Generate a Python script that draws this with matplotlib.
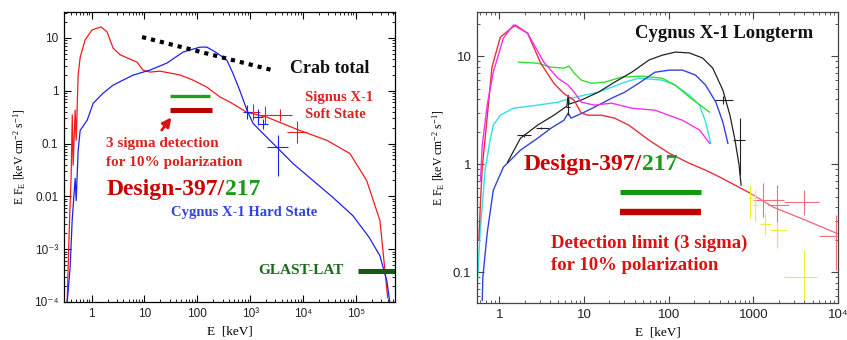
import matplotlib.pyplot as plt
from matplotlib.ticker import LogLocator, NullFormatter
import numpy as np

plt.rcParams['mathtext.fontset'] = 'custom'
plt.rcParams['mathtext.rm'] = 'Liberation Serif'
plt.rcParams['mathtext.it'] = 'Liberation Serif:italic'

SERIF = 'Liberation Serif'
SANS = ['Liberation Sans', 'DejaVu Sans']

# ---------------- left panel: hard / soft state, E [keV] vs E*F_E ----------------
soft_E = [0.344, 0.376, 0.41, 0.43, 0.447, 0.488, 0.51, 0.556, 0.607, 0.753,
          1.02, 1.51, 1.96, 2.55, 3.46, 4.69, 7.2, 9.4, 12.8, 19.7,
          30.5, 47, 83, 152, 269, 415, 870, 2080, 7670, 2.83e4,
          7.7e4, 1.6e5, 2.85e5, 4.0e5]
soft_F = [9.5e-5, 2.2e-3, 0.025, 0.35, 0.039, 0.43, 0.115, 2.0, 4.3, 9.2,
          14.2, 16.2, 13, 6.4, 4.8, 4.2, 3.5, 2.45, 2.26, 2.35,
          2.16, 1.99, 1.59, 1.17, 0.76, 0.61, 0.39, 0.316, 0.186, 0.115,
          0.065, 0.02, 3.5e-3, 1.2e-4]

hard_E = [0.344, 0.392, 0.428, 0.488, 0.51, 0.556, 0.607, 0.822, 1.07, 1.65,
          2.55, 6.1, 12.8, 26.7, 53.7, 112, 152, 235, 362, 470,
          632, 870, 1130, 1740, 3200, 6450, 1.54e4, 3.7e4, 8.8e4, 1.8e5,
          2.85e5, 3.86e5, 4.4e5]
hard_F = [9.6e-5, 4.5e-4, 3.5e-3, 0.022, 8.3e-3, 0.074, 0.178, 0.276, 0.58, 0.90,
          1.28, 1.98, 2.47, 3.35, 5.4, 6.7, 6.7, 5.2, 3.8, 2.16,
          1.03, 0.43, 0.242, 0.156, 0.085, 0.042, 0.020, 9.5e-3, 4.3e-3, 1.65e-3,
          7.5e-4, 2.5e-4, 9.6e-5]

# error crosses (centre, low, high)
soft_x = [1130, 1905, 3660, 7670]
soft_xlo = [835, 1470, 2170, 4960]
soft_xhi = [1530, 2470, 6170, 11860]
soft_y = [0.392, 0.344, 0.344, 0.163]
soft_ylo = [0.276, 0.233, 0.265, 0.101]
soft_yhi = [0.556, 0.51, 0.448, 0.264]

hard_x = [870, 1400, 1740, 3350]
hard_xlo = [730, 1125, 1400, 2080]
hard_xhi = [1040, 1745, 2170, 5190]
hard_y = [0.392, 0.315, 0.232, 0.0848]
hard_ylo = [0.29, 0.22, 0.187, 0.0248]
hard_yhi = [0.53, 0.45, 0.288, 0.143]

crab_E = [9.0, 2580]
crab_F = [10.4, 2.47]

pol_green_E = [30, 170]
pol_green_F = [0.79, 0.79]
pol_red_E = [30, 190]
pol_red_F = [0.43, 0.43]

glast_E = [1.09e5, 6e5]
glast_F = [3.9e-4, 3.9e-4]

left_xticks = [1, 10, 100, 1e3, 1e4, 1e5]
left_xlabels = ['1', '10', '100', '10³', '10⁴', '10⁵']
left_yticks = [1e-4, 1e-3, 0.01, 0.1, 1, 10]
left_ylabels = ['10⁻⁴', '10⁻³', '0.01', '0.1', '1', '10']

# ---------------- right panel: Cygnus X-1 long-term spectra ----------------
r_red_E = [0.575, 0.60, 0.63, 0.72, 0.82, 1.03, 1.55, 2.16, 3.09, 4.42, 5.8, 7.66,
           9.3, 11.3, 16.1, 23, 33.8, 58.6, 102, 176, 274, 402, 918]
r_red_F = [0.2, 0.45, 0.94, 2.72, 7.9, 15, 19.4, 16.3, 8.6, 5.6, 4.5, 3.9,
           2.97, 2.84, 2.84, 2.67, 2.3, 1.67, 1.26, 1.02, 0.88, 0.76, 0.54]
r_tail_E = [918, 1730, 4290, 1.1e4]
r_tail_F = [0.54, 0.40, 0.30, 0.22]

r_mag_E = [0.6, 0.63, 0.72, 0.85, 1.12, 1.47, 2.16, 3.36, 4.93, 6.5, 7.66, 9.3,
           13.3, 21.2, 36.7, 69, 146, 232, 305]
r_mag_F = [0.7, 1.5, 3.52, 7.1, 14.7, 19.4, 16.3, 8.8, 6.25, 5.4, 4.64, 3.75,
           3.52, 3.67, 3.3, 3.16, 2.55, 2.07, 1.56]

r_grn_E = [1.69, 2.84, 4.07, 5.8, 6.67, 7.66, 9.3, 12.2, 17.5, 27.9, 48.4, 84, 120, 176, 305]
r_grn_F = [8.8, 8.6, 7.9, 7.74, 8.07, 6.97, 6.0, 5.62, 5.74, 6.4, 6.53, 6.25, 5.38, 4.17, 3.03]

r_cyan_E = [0.546, 0.593, 0.68, 0.78, 0.85, 1.03, 1.47, 2.84, 4.93, 7.05, 10.1,
            14.8, 21.2, 30.3, 44.5, 84, 120, 176, 232, 274, 314]
r_cyan_F = [0.068, 0.23, 0.88, 1.67, 2.3, 2.84, 3.3, 3.52, 3.75, 4.08, 4.35,
            4.64, 5.16, 5.74, 6.25, 6.0, 5.38, 4.35, 3.52, 2.45, 1.56]

r_blue_E = [0.63, 0.64, 0.72, 0.85, 1.12, 1.78, 2.84, 4.07, 5.8, 6.5, 7.05, 10.1,
            14.8, 21.2, 30.3, 44.5, 69, 102, 146, 208, 274, 361, 437, 501]
r_blue_F = [0.055, 0.09, 0.23, 0.574, 0.94, 1.35, 1.74, 2.15, 2.55, 2.97, 2.67, 3.03,
            3.52, 4.08, 4.64, 5.62, 7.1, 7.42, 7.42, 6.67, 5.38, 3.75, 2.45, 1.56]

r_blk_E = [1.25, 1.78, 2.84, 4.42, 6.3, 6.5, 6.7, 9.3, 14.8, 23, 36.7,
           58.6, 84, 120, 176, 252, 332, 437, 530, 608, 679, 717]
r_blk_F = [1.04, 1.74, 2.3, 2.84, 3.45, 4.35, 3.6, 3.92, 4.64, 5.74, 7.1,
           9.2, 10.2, 10.9, 10.7, 9.6, 7.74, 4.84, 2.84, 1.67, 0.98, 0.64]

blk_x = [1.94, 3.09, 6.5, 437, 697]
blk_xlo = [1.64, 2.69, 6.2, 350, 575]
blk_xhi = [2.34, 3.85, 6.8, 575, 800]
blk_y = [1.86, 2.15, 3.37, 3.92, 1.67]
blk_ylo = [1.8, 2.1, 2.84, 3.6, 0.79]
blk_yhi = [1.92, 2.2, 3.92, 4.27, 2.67]

pink_x = [1313, 1880, 3945, 9510]
pink_xlo = [998, 1506, 2277, 5960]
pink_xhi = [2277, 2612, 5960, 13600]
pink_y = [0.464, 0.417, 0.445, 0.216]
pink_ylo = [0.323, 0.170, 0.337, 0.1045]
pink_yhi = [0.667, 0.64, 0.574, 0.337]

yel_x = [918, 1054, 1387, 1880, 3945]
yel_xlo = [870, 998, 1208, 1592, 2277]
yel_xhi = [990, 1140, 1637, 2405, 5640]
yel_y = [0.484, 0.417, 0.278, 0.245, 0.09]
yel_ylo = [0.316, 0.29, 0.22, 0.167, 0.055]
yel_yhi = [0.64, 0.574, 0.351, 0.29, 0.16]

r_pol_green_E = [26.4, 239]
r_pol_green_F = [0.55, 0.55]
r_pol_red_E = [26.4, 239]
r_pol_red_F = [0.36, 0.36]

right_xticks = [1, 10, 100, 1000, 1e4]
right_xlabels = ['1', '10', '100', '1000', '10⁴']
right_yticks = [0.1, 1, 10]
right_ylabels = ['0.1', '1', '10']


def cross(ax, x, xlo, xhi, y, ylo, yhi, color, lw=0.8):
    x = np.array(x); y = np.array(y)
    xerr = [x - np.array(xlo), np.array(xhi) - x]
    yerr = [y - np.array(ylo), np.array(yhi) - y]
    ax.errorbar(x, y, xerr=xerr, yerr=yerr, fmt='none', ecolor=color,
                elinewidth=lw, capsize=0)


def style_axes(ax, xt, xl, yt, yl, edge, tsize):
    ax.set_xscale('log')
    ax.set_yscale('log')
    ax.set_xticks(xt, xl)
    ax.set_yticks(yt, yl)
    for a in (ax.xaxis, ax.yaxis):
        a.set_minor_locator(LogLocator(base=10, subs=np.arange(2, 10), numticks=100))
        a.set_minor_formatter(NullFormatter())
    ax.tick_params(which='both', direction='in', top=True, right=True, colors=edge,
                   labelcolor='#222222')
    ax.tick_params(which='major', length=5, width=0.8, pad=4)
    ax.tick_params(which='minor', length=2.5, width=0.6)
    for lab in ax.get_xticklabels() + ax.get_yticklabels():
        lab.set_family(SANS)
        lab.set_fontsize(tsize)
    for s in ax.spines.values():
        s.set_color(edge)
        s.set_linewidth(0.9)
    ax.set_xlabel('E  [keV]', family=SERIF, fontsize=9.5, labelpad=4)
    ax.set_ylabel(r'E F$_{\rm E}$ [keV cm$^{-2}$ s$^{-1}$]', family=SERIF,
                  fontsize=8.5, labelpad=4)


def two_color(ax, x, y, size):
    t1 = ax.text(x, y, 'Design-397/', color='#cc0000', fontsize=size,
                 fontweight='bold', family=SERIF, va='bottom', ha='left')
    ax.annotate('217', xy=(1, 0), xycoords=t1, color='#1a9a1a', fontsize=size,
                fontweight='bold', family=SERIF, va='bottom', ha='left')


fig = plt.figure(figsize=(8.47, 3.4), dpi=100)

# ---------------- left ----------------
ax1 = fig.add_axes([64 / 847, 1 - 302 / 340, 331 / 847, 290 / 340])
ax1.plot(soft_E, soft_F, color='#ee1c1c', lw=0.9)
ax1.plot(hard_E, hard_F, color='#2020ee', lw=0.9)
cross(ax1, soft_x, soft_xlo, soft_xhi, soft_y, soft_ylo, soft_yhi, '#ee1c1c')
cross(ax1, hard_x, hard_xlo, hard_xhi, hard_y, hard_ylo, hard_yhi, '#2020ee')
ax1.plot(crab_E, crab_F, color='black', lw=3.0, linestyle=(0, (1, 1.2)))
ax1.plot(pol_green_E, pol_green_F, color='#1f9e1f', lw=2.4, solid_capstyle='butt')
ax1.plot(pol_red_E, pol_red_F, color='#bb0000', lw=3.6, solid_capstyle='butt')
ax1.plot(glast_E, glast_F, color='#0f5f0f', lw=3.6, solid_capstyle='butt')
ax1.annotate('', xy=(34.7, 0.344), xytext=(19.7, 0.163),
             arrowprops=dict(arrowstyle='-|>', color='#dd1111', lw=2.0, mutation_scale=13))
ax1.set_xlim(0.3, 5.5e5)
ax1.set_ylim(1e-4, 31)
style_axes(ax1, left_xticks, left_xlabels, left_yticks, left_ylabels, 'black', 8.5)

ax1.text(5650, 2.69, 'Crab total', family=SERIF, fontweight='bold', fontsize=13,
         va='center', ha='left', color='#111111')
ax1.text(1.09e4, 0.755, 'Signus X-1', family=SERIF, fontweight='bold', fontsize=10.5,
         va='center', ha='left', color='#dd2222')
ax1.text(1.09e4, 0.359, 'Soft State', family=SERIF, fontweight='bold', fontsize=10.5,
         va='center', ha='left', color='#dd2222')
ax1.text(1.88, 0.101, '3 sigma detection', family=SERIF, fontweight='bold', fontsize=11,
         va='center', ha='left', color='#dd2222')
ax1.text(1.88, 0.0435, 'for 10% polarization', family=SERIF, fontweight='bold',
         fontsize=11, va='center', ha='left', color='#dd2222')
two_color(ax1, 1.96, 0.0085, 17)
ax1.text(31.8, 5.0e-3, 'Cygnus X-1 Hard State', family=SERIF, fontweight='bold',
         fontsize=10.5, va='center', ha='left', color='#3344dd')
ax1.text(1403, 3.9e-4, 'GLAST-LAT', family=SERIF, fontweight='bold', fontsize=11,
         va='center', ha='left', color='#1a6b1a')

# ---------------- right ----------------
ax2 = fig.add_axes([477 / 847, 1 - 303 / 340, 361 / 847, 291 / 340])
ax2.plot(r_cyan_E, r_cyan_F, color='#33e0e0', lw=1.0)
ax2.plot(r_grn_E, r_grn_F, color='#33dd33', lw=1.0)
ax2.plot(r_blue_E, r_blue_F, color='#3344dd', lw=1.0)
ax2.plot(r_blk_E, r_blk_F, color='#222222', lw=0.9)
ax2.plot(r_red_E, r_red_F, color='#e8303a', lw=1.0)
ax2.plot(r_mag_E, r_mag_F, color='#ee33ee', lw=1.0)
ax2.plot(r_tail_E, r_tail_F, color='#f07080', lw=1.0)
cross(ax2, blk_x, blk_xlo, blk_xhi, blk_y, blk_ylo, blk_yhi, '#222222')
cross(ax2, pink_x, pink_xlo, pink_xhi, pink_y, pink_ylo, pink_yhi, '#f07080')
cross(ax2, yel_x, yel_xlo, yel_xhi, yel_y, yel_ylo, yel_yhi, '#eeee30')
ax2.plot(r_pol_green_E, r_pol_green_F, color='#119911', lw=3.6, solid_capstyle='butt')
ax2.plot(r_pol_red_E, r_pol_red_F, color='#c00000', lw=4.6, solid_capstyle='butt')
ax2.set_xlim(0.546, 1e4)
ax2.set_ylim(0.052, 25.6)
style_axes(ax2, right_xticks, right_xlabels, right_yticks, right_ylabels, '#444444', 9.5)

ax2.text(39.9, 16.3, 'Cygnus X-1 Longterm', family=SERIF, fontweight='bold',
         fontsize=13.4, va='center', ha='left', color='#111111')
two_color(ax2, 1.94, 0.80, 17)
ax2.text(4.07, 0.186, 'Detection limit (3 sigma)', family=SERIF, fontweight='bold',
         fontsize=13.5, va='center', ha='left', color='#dd1111')
ax2.text(4.07, 0.116, 'for 10% polarization', family=SERIF, fontweight='bold',
         fontsize=13.5, va='center', ha='left', color='#dd1111')

fig.savefig('out.png', dpi=100)
